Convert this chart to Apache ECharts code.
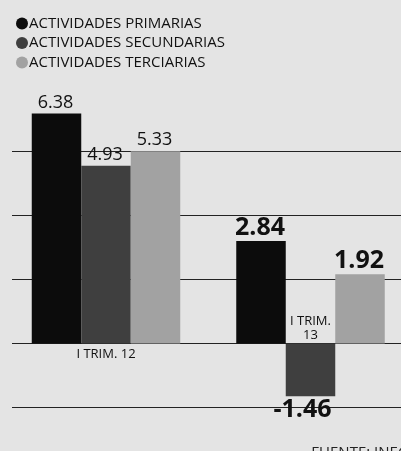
<!DOCTYPE html>
<html>
<head>
<meta charset="utf-8">
<script src="https://cdn.jsdelivr.net/npm/echarts@6/dist/echarts.min.js"></script>
<style>html,body{margin:0;padding:0;background:#e4e4e4}#c{width:401px;height:451px}</style>
</head>
<body>
<div id="c"></div>
<script>
const categories = ['I TRIM. 12', 'I TRIM. 13'];
const seriesNames = ['ACTIVIDADES PRIMARIAS', 'ACTIVIDADES SECUNDARIAS', 'ACTIVIDADES TERCIARIAS'];
const primarias = [6.38, 2.84];
const secundarias = [4.93, -1.46];
const terciarias = [5.33, 1.92];
const source = 'FUENTE: INEGI';

const FONT = '"Open Sans", sans-serif';
const colors = ['#0c0c0c', '#3f3f3f', '#a2a2a2'];

function valueLabels(vals) {
  return vals.map((v, i) => ({
    value: v,
    label: {
      show: true,
      position: v < 0 ? 'bottom' : 'top',
      distance: i === 0 ? 2 : 1,
      offset: v < 0 ? [-8, 0] : [-1, 0],
      fontFamily: FONT,
      fontSize: i === 0 ? 18 : 25,
      fontWeight: i === 0 ? 'normal' : 'bold',
      color: '#111',
      formatter: (p) => p.value.toFixed(2)
    }
  }));
}

const chart = echarts.init(document.getElementById('c'), null, {renderer: 'canvas'});
const yCommon = {min: -1.775, max: 7.1, interval: 1.775};
chart.setOption({
  backgroundColor: '#e4e4e4',
  animation: false,
  textStyle: {fontFamily: FONT},
  title: {
    text: source, right: -17, top: 440,
    textStyle: {fontFamily: FONT, fontSize: 15, fontWeight: 'normal', color: '#222'}
  },
  legend: {
    orient: 'vertical', left: 11, top: 11,
    icon: 'circle', itemWidth: 12, itemHeight: 12, itemGap: 4.5,
    data: seriesNames,
    textStyle: {fontFamily: FONT, fontSize: 15, color: '#111', padding: [0, 0, 0, -4], lineHeight: 15}
  },
  grid: [
    {left: 3.75, width: 409, top: 87.5, bottom: 43.5, outerBoundsMode: 'none'},
    {left: 12, right: 0, top: 87.5, bottom: 43.5, outerBoundsMode: 'none'}
  ],
  xAxis: [
    {type: 'category', gridIndex: 0, data: categories, axisLine: {show: false}, axisTick: {show: false}, axisLabel: {show: false}},
    {type: 'category', gridIndex: 1, data: categories, show: false}
  ],
  yAxis: [
    Object.assign({type: 'value', gridIndex: 0, show: false, splitLine: {show: false}}, yCommon),
    Object.assign({type: 'value', gridIndex: 1, axisLabel: {show: false}, axisLine: {show: false}, axisTick: {show: false},
      splitLine: {show: true, showMaxLine: false, showMinLine: true, lineStyle: {color: '#222', width: 1.2}}}, yCommon)
  ],
  series: [
    {name: seriesNames[0], type: 'bar', xAxisIndex: 0, yAxisIndex: 0, barWidth: 49.5, barGap: '0%',
      itemStyle: {color: colors[0]}, data: valueLabels(primarias)},
    {name: seriesNames[1], type: 'bar', xAxisIndex: 0, yAxisIndex: 0, barWidth: 49.5, barGap: '0%',
      itemStyle: {color: colors[1]}, data: valueLabels(secundarias),
      markPoint: {
        symbol: 'rect', symbolSize: [1, 1], itemStyle: {color: 'rgba(0,0,0,0)'},
        data: [
          {coord: [categories[0], 0], label: {show: true, position: 'bottom', distance: 4, formatter: categories[0], fontFamily: FONT, fontSize: 13, color: '#111'}},
          {coord: [categories[1], 0], label: {show: true, position: 'top', distance: 1, lineHeight: 14, formatter: categories[1].replace(' 13', '\n13'), fontFamily: FONT, fontSize: 13, color: '#111', align: 'center'}}
        ]
      }},
    {name: seriesNames[2], type: 'bar', xAxisIndex: 0, yAxisIndex: 0, barWidth: 49.5, barGap: '0%',
      itemStyle: {color: colors[2]}, data: valueLabels(terciarias)}
  ]
});
</script>
</body>
</html>
